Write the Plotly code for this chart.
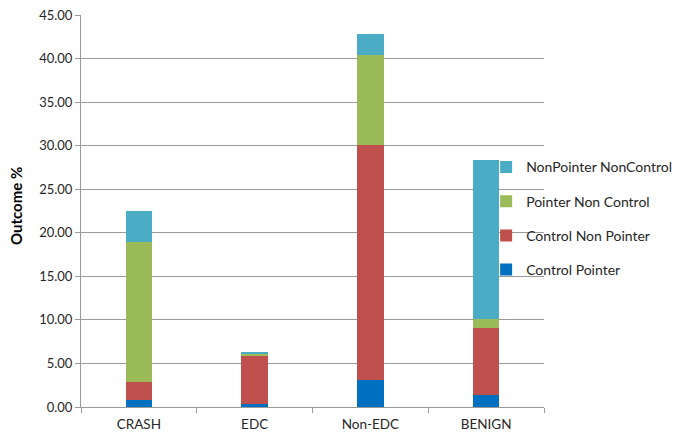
import plotly.graph_objects as go

categories = ["CRASH", "EDC", "Non-EDC", "BENIGN"]
control_pointer = [0.77, 0.34, 3.10, 1.38]
control_non_pointer = [2.06, 5.51, 26.98, 7.65]
pointer_non_control = [16.15, 0.31, 10.37, 1.07]
nonpointer_noncontrol = [3.55, 0.19, 2.37, 18.26]

series = [
    ("Control Pointer", control_pointer, "#0070C0", 4),
    ("Control Non Pointer", control_non_pointer, "#C0504D", 3),
    ("Pointer Non Control", pointer_non_control, "#9BBB59", 2),
    ("NonPointer NonControl", nonpointer_noncontrol, "#4BACC6", 1),
]

fig = go.Figure()
for name, vals, col, rank in series:
    fig.add_trace(go.Bar(x=categories, y=vals, name=name, marker_color=col,
                         marker_line_width=0, legendgroup=name, legendrank=rank))

font = "Lato, 'Open Sans', sans-serif"
fig.update_layout(
    width=679, height=437,
    barmode="stack", bargap=0.77,
    margin=dict(l=81, r=135, t=15, b=30, autoexpand=False),
    plot_bgcolor="white", paper_bgcolor="white",
    font=dict(family=font, size=12, color="#262626"),
    legend=dict(x=0.875, y=0.652, xanchor="left", yanchor="top",
                traceorder="grouped", tracegroupgap=13,
                bgcolor="rgba(0,0,0,0)", font=dict(size=14, color="#262626")),
    xaxis=dict(showline=True, linecolor="#9a9a9a", linewidth=1, automargin=False,
               ticks="outside", tickson="boundaries", ticklen=5, tickcolor="#9a9a9a",
               tickfont=dict(size=13.5), ticklabelstandoff=5),
    yaxis=dict(range=[0, 45], dtick=5, tickformat=".2f", showgrid=True, automargin=False,
               gridcolor="#9a9a9a", gridwidth=1, showline=True, linecolor="#9a9a9a",
               ticks="outside", ticklen=5, tickcolor="#9a9a9a", zeroline=False,
               tickfont=dict(size=13)),
    annotations=[dict(text="<b>Outcome %</b>",
                      x=(16 - 81) / (679 - 81 - 135), y=(407 - 206) / (407 - 15),
                      xref="paper", yref="paper", xanchor="center", yanchor="middle",
                      showarrow=False, textangle=-90, font=dict(size=15, color="#000"))],
)
fig.write_html("out.html")
